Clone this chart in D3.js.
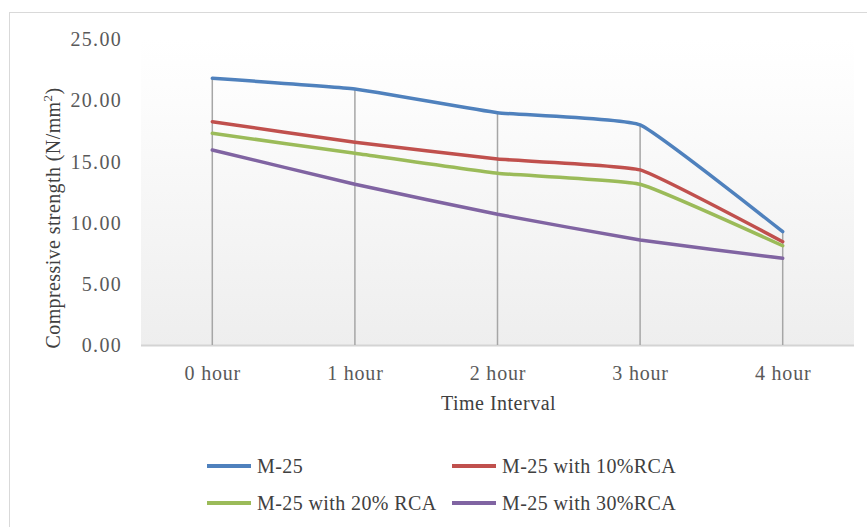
<!DOCTYPE html>
<html>
<head>
<meta charset="utf-8">
<script src="https://cdn.jsdelivr.net/npm/d3@7"></script>
<style>
  html, body { margin: 0; padding: 0; background: #ffffff; }
  svg { display: block; }
  text { font-family: "Liberation Serif", "Times New Roman", serif; }
</style>
</head>
<body>
<svg id="chart" width="867" height="527"></svg>
<script>
// Time intervals on the x axis
const categories = ["0 hour", "1 hour", "2 hour", "3 hour", "4 hour"];

// Compressive strength (N/mm²) for each mix
const m25      = [21.77, 20.90, 18.96, 17.96, 9.25];
const m25rca10 = [18.23, 16.55, 15.18, 14.29, 8.43];
const m25rca20 = [17.28, 15.65, 14.02, 13.12, 8.10];
const m25rca30 = [15.92, 13.12, 10.67, 8.57, 7.08];

const seriesNames  = ["M-25", "M-25 with 10%RCA", "M-25 with 20% RCA", "M-25 with 30%RCA"];
const seriesColors = ["#4F81BD", "#C0504D", "#9BBB59", "#8064A2"];

const yTicks = [0, 5, 10, 15, 20, 25];

const series = [m25, m25rca10, m25rca20, m25rca30].map((values, i) => ({
  name: seriesNames[i],
  color: seriesColors[i],
  values
}));

const svg = d3.select("#chart");
const W = 867, H = 527;

const plot = { left: 141, right: 854, top: 38.7, bottom: 345 };

const x = d3.scalePoint().domain(categories).range([plot.left, plot.right]).padding(0.5);
const y = d3.scaleLinear().domain([0, 25]).range([plot.bottom, plot.top]);

// Chart frame
svg.append("rect")
  .attr("x", 9.5).attr("y", 12.5)
  .attr("width", W + 10).attr("height", H + 10)
  .attr("fill", "#ffffff")
  .attr("stroke", "#d9d9d9").attr("stroke-width", 1);

// Plot area with a soft vertical gradient
const defs = svg.append("defs");
const grad = defs.append("linearGradient")
  .attr("id", "plotFill").attr("x1", 0).attr("y1", 0).attr("x2", 0).attr("y2", 1);
grad.append("stop").attr("offset", "0%").attr("stop-color", "#ffffff");
grad.append("stop").attr("offset", "15%").attr("stop-color", "#fdfdfd");
grad.append("stop").attr("offset", "100%").attr("stop-color", "#eeeeee");

svg.append("rect")
  .attr("x", plot.left).attr("y", plot.top)
  .attr("width", plot.right - plot.left).attr("height", plot.bottom - plot.top)
  .attr("fill", "url(#plotFill)");

// Category axis line
svg.append("line")
  .attr("x1", plot.left).attr("x2", plot.right)
  .attr("y1", plot.bottom + 0.5).attr("y2", plot.bottom + 0.5)
  .attr("stroke", "#d4d4d4").attr("stroke-width", 2);

// Drop lines from the highest point of each category to the axis
categories.forEach((c, i) => {
  const top = d3.max(series, s => s.values[i]);
  svg.append("line")
    .attr("x1", x(c)).attr("x2", x(c))
    .attr("y1", y(top)).attr("y2", plot.bottom)
    .attr("stroke", "#a6a6a6").attr("stroke-width", 1.5);
});

// Y axis tick labels
const yAxis = d3.axisLeft(y).tickValues(yTicks).tickFormat(d3.format(".2f")).tickSize(0).tickPadding(0);
const yG = svg.append("g").attr("transform", `translate(122,0)`).call(yAxis);
yG.select(".domain").remove();
yG.selectAll("text")
  .attr("font-family", "Liberation Serif, Times New Roman, serif")
  .attr("font-size", 20)
  .attr("letter-spacing", 1.3)
  .attr("fill", "#595959")
  .attr("dy", "0.34em");

// X axis tick labels
const xAxis = d3.axisBottom(x).tickSize(0).tickPadding(0);
const xG = svg.append("g").attr("transform", `translate(0,${plot.bottom})`).call(xAxis);
xG.select(".domain").remove();
xG.selectAll("text")
  .attr("font-family", "Liberation Serif, Times New Roman, serif")
  .attr("font-size", 20)
  .attr("letter-spacing", 0.8)
  .attr("fill", "#595959")
  .attr("y", 35).attr("dy", 0);

// Series lines, lightly smoothed
const line = d3.line()
  .x((d, i) => x(categories[i]))
  .y(d => y(d))
  .curve(d3.curveCardinal.tension(0.65));

svg.append("g").selectAll("path")
  .data(series)
  .join("path")
  .attr("d", d => line(d.values))
  .attr("fill", "none")
  .attr("stroke", d => d.color)
  .attr("stroke-width", 3.5)
  .attr("stroke-linejoin", "round")
  .attr("stroke-linecap", "round");

// Axis titles
svg.append("text")
  .attr("x", 498.5).attr("y", 410)
  .attr("text-anchor", "middle")
  .attr("font-size", 20)
  .attr("letter-spacing", 0.5)
  .attr("fill", "#404040")
  .text("Time Interval");

const yTitle = svg.append("text")
  .attr("transform", "translate(60,218) rotate(-90)")
  .attr("text-anchor", "middle")
  .attr("font-size", 20)
  .attr("letter-spacing", 0.4)
  .attr("fill", "#404040");
yTitle.append("tspan").text("Compressive strength (N/mm");
yTitle.append("tspan").attr("font-size", 13).attr("dy", -8).text("2");
yTitle.append("tspan").attr("dy", 8).text(")");

// Legend
const legendPos = [
  { lx: 207, ty: 466 },
  { lx: 452, ty: 466 },
  { lx: 207, ty: 503 },
  { lx: 452, ty: 503 }
];
const legend = svg.append("g").selectAll("g")
  .data(series)
  .join("g")
  .attr("transform", (d, i) => `translate(${legendPos[i].lx},${legendPos[i].ty})`);
legend.append("line")
  .attr("x1", 0).attr("x2", 44)
  .attr("y1", 0).attr("y2", 0)
  .attr("stroke", d => d.color)
  .attr("stroke-width", 4);
legend.append("text")
  .attr("x", 50).attr("y", 0).attr("dy", "0.35em")
  .attr("font-size", 20)
  .attr("letter-spacing", 0.4)
  .attr("fill", "#404040")
  .text(d => d.name);
</script>
</body>
</html>
